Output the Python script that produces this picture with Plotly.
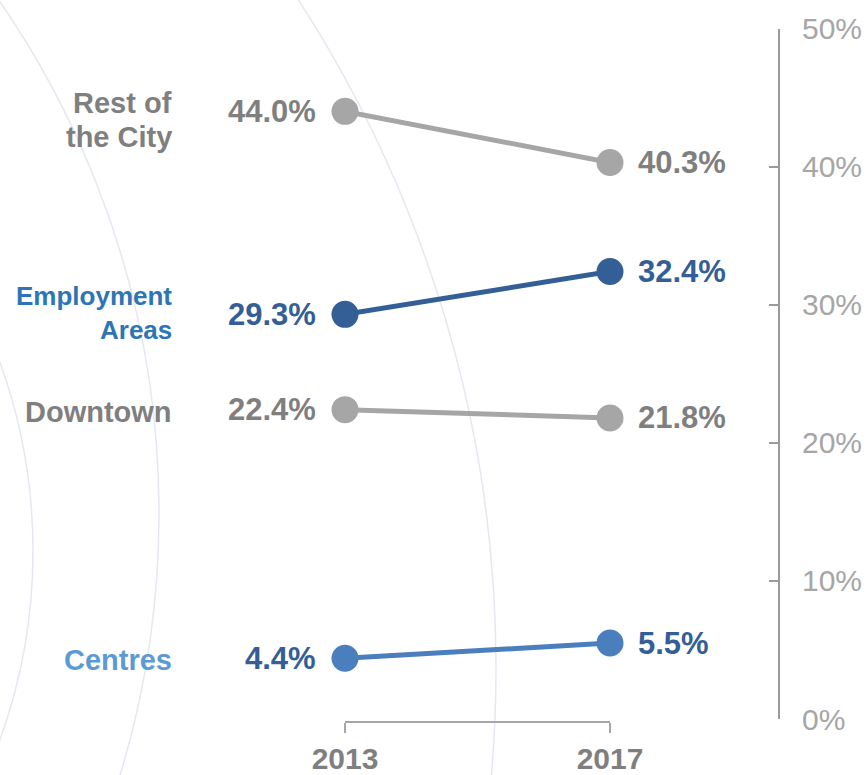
import plotly.graph_objects as go

# ---- data ----
years = [2013, 2017]
series_names = ["Rest of<br>the City", "Employment<br>Areas", "Downtown", "Centres"]
rest_of_city = [44.0, 40.3]
employment_areas = [29.3, 32.4]
downtown = [22.4, 21.8]
centres = [4.4, 5.5]
y_tickvals = [0, 10, 20, 30, 40, 50]
y_ticktext = [f"{v}%" for v in y_tickvals]
x_ticklabels = ["2013", "2017"]

W, H = 867, 775
FONT = "Liberation Sans, Arial, sans-serif"


def px(x):
    return x / W


def py(y):
    return 1 - y / H


GRAY_LINE = "#a6a6a6"
GRAY_TEXT = "#7f7f7f"
DARK_BLUE = "#345f96"
MID_BLUE = "#4a7ebd"
LABEL_BLUE = "#2e75b6"
LIGHT_BLUE = "#5b9bd5"

series = [
    dict(name=series_names[0], vals=rest_of_city, line=GRAY_LINE, val_col=GRAY_TEXT,
         lab_col=GRAY_TEXT, lab_size=29, lab_shift=-9),
    dict(name=series_names[1], vals=employment_areas, line=DARK_BLUE, val_col=DARK_BLUE,
         lab_col=LABEL_BLUE, lab_size=26, lab_shift=1),
    dict(name=series_names[2], vals=downtown, line=GRAY_LINE, val_col=GRAY_TEXT,
         lab_col=GRAY_TEXT, lab_size=29, lab_shift=-2),
    dict(name=series_names[3], vals=centres, line=MID_BLUE, val_col=DARK_BLUE,
         lab_col=LIGHT_BLUE, lab_size=29, lab_shift=-2),
]

LINE_GAP = 34  # px between lines of a two-line series label

fig = go.Figure()
annotations = []
for s in series:
    fig.add_trace(go.Scatter(
        x=years, y=s["vals"], mode="lines+markers",
        line=dict(color=s["line"], width=5),
        marker=dict(color=s["line"], size=27),
        cliponaxis=False, showlegend=False, hoverinfo="skip",
    ))
    # value labels
    annotations.append(dict(
        x=years[0], y=s["vals"][0], xref="x", yref="y",
        text=f"{s['vals'][0]:.1f}%", showarrow=False,
        xanchor="right", yanchor="middle", xshift=-27,
        font=dict(family=FONT, size=31, color=s["val_col"], weight="bold"),
    ))
    annotations.append(dict(
        x=years[1], y=s["vals"][1], xref="x", yref="y",
        text=f"{s['vals'][1]:.1f}%", showarrow=False,
        xanchor="left", yanchor="middle", xshift=26,
        font=dict(family=FONT, size=31, color=s["val_col"], weight="bold"),
    ))
    # series labels (one annotation per line for tighter line spacing)
    lines = s["name"].split("<br>")
    n = len(lines)
    for i, ln in enumerate(lines):
        off = ((n - 1) / 2 - i) * LINE_GAP
        annotations.append(dict(
            x=px(174), y=s["vals"][0], xref="paper", yref="y",
            text=ln, showarrow=False, align="right",
            xanchor="right", yanchor="middle", yshift=s["lab_shift"] + off,
            font=dict(family=FONT, size=s["lab_size"], color=s["lab_col"], weight="bold"),
        ))

# decorative background arcs (centre x, centre y, radius in px)
arcs = [(-741, 513, 900), (-732, 668, 1228), (-522, 551, 555)]
shapes = []
for cx, cy, r in arcs:
    shapes.append(dict(
        type="circle", xref="paper", yref="paper", layer="below",
        x0=px(cx - r), x1=px(cx + r), y0=py(cy + r), y1=py(cy - r),
        line=dict(color="#e6e8f1", width=1.5),
    ))

fig.update_layout(
    width=W, height=H,
    margin=dict(l=0, r=0, t=0, b=0, autoexpand=False),
    paper_bgcolor="white", plot_bgcolor="rgba(0,0,0,0)",
    annotations=annotations, shapes=shapes,
    xaxis=dict(
        domain=[px(345), px(610)], range=[years[0], years[1]],
        anchor="free", position=py(722),
        tickvals=years, ticktext=x_ticklabels,
        showline=True, linecolor=GRAY_LINE, linewidth=2,
        ticks="outside", ticklen=10, tickwidth=2, tickcolor=GRAY_LINE,
        tickfont=dict(family=FONT, size=30, color=GRAY_TEXT, weight="bold"),
        showgrid=False, zeroline=False, automargin=False,
    ),
    yaxis=dict(
        domain=[py(719), py(28.5)], range=[0, 50],
        side="right", anchor="free", position=px(779),
        tickvals=y_tickvals, ticktext=y_ticktext,
        showline=True, linecolor="#9a9a9a", linewidth=2,
        ticks="inside", ticklen=9, tickwidth=1.5, tickcolor="#9a9a9a",
        ticklabelstandoff=16,
        tickfont=dict(family=FONT, size=30, color="#a6a6a6"),
        showgrid=False, zeroline=False, automargin=False,
    ),
)

fig.write_html(
    "out.html",
    config={"displayModeBar": False},
    post_script="document.body.style.margin='0px';document.body.style.overflow='hidden';",
)
